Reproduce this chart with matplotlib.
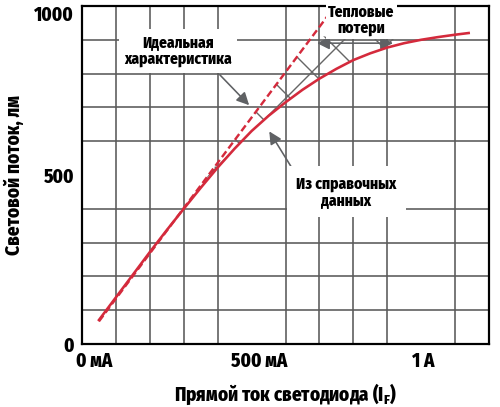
import matplotlib
matplotlib.use('Agg')
import matplotlib.pyplot as plt
import matplotlib.transforms as mtransforms
import numpy as np

plt.rcParams['font.family'] = ['Fira Sans Condensed', 'Roboto Condensed', 'DejaVu Sans']
plt.rcParams['font.weight'] = 800
plt.rcParams['axes.labelweight'] = 800
plt.rcParams['hatch.linewidth'] = 0.7

#-----------------------------------------------------------------------------
# Данные: ток (мА) и световой поток (лм)

tok = [50, 100, 150, 200, 250, 300, 350, 400, 450, 500, 550, 600, 650,
       700, 750, 800, 850, 900, 950, 1000, 1050, 1100, 1140]
potok = [71, 138, 205, 272, 337, 400, 462, 522, 578, 630, 675, 715, 752,
         785, 814, 840, 860, 877, 890, 900, 908, 915, 920]

# идеальная характеристика (прямая)
ideal_tok = [50, 735]
ideal_potok = [67, 985]

# область штриховки "тепловые потери"
poteri_tok = [300, 930]
poteri_max = 910

xticks = [0, 500, 1000]
xlabels = ['0 мА', '500 мА', '1 А']
yticks = [0, 500, 1000]
ylabels = ['0', '500', '1000']

#-----------------------------------------------------------------------------
red = '#d42a3c'
gray = '#5f6164'

fig = plt.figure(figsize=(500/144, 407/144), dpi=144)
ax = fig.add_axes([0.164, 0.1548, 0.814, 0.8305])

ax.set_xlim(0, 1200)
ax.set_ylim(0, 1000)
ax.set_xticks(np.arange(0, 1201, 100), minor=True)
ax.set_yticks(np.arange(0, 1001, 100), minor=True)
ax.grid(which='minor', color='#5a5a5a', lw=0.8)
ax.set_axisbelow(True)
ax.tick_params(which='both', length=0)
ax.set_xticks(xticks, xlabels)
ax.set_yticks(yticks, ylabels)
ax.tick_params(axis='x', pad=4, labelsize=9.5)
ax.tick_params(axis='y', pad=4, labelsize=9.5)
for sp in ax.spines.values():
    sp.set_linewidth(1.1)

# подписи осей
ax.set_xlabel('Прямой ток светодиода (I$_\\mathregular{F}$)', fontsize=9.5, labelpad=5)
ax.set_ylabel('Световой поток, лм', fontsize=9.5, labelpad=5)

lab = ax.get_xticklabels()
lab[0].set_ha('left')
for l, dx in zip(lab, [-6, 8, 2]):
    off = mtransforms.ScaledTranslation(dx/144, 0, fig.dpi_scale_trans)
    l.set_transform(l.get_transform() + off)
ax.get_yticklabels()[-1].set_va('top')

# штриховка между идеальной прямой и реальной кривой
xx = np.linspace(poteri_tok[0], poteri_tok[1], 400)
verh = np.minimum(np.interp(xx, ideal_tok, ideal_potok), poteri_max)
niz = np.interp(xx, tok, potok)
ax.fill_between(xx, niz, verh, where=verh > niz, facecolor='none',
                edgecolor='#666666', hatch='x', lw=0, zorder=1.5)

ax.plot(ideal_tok, ideal_potok, color=red, lw=1.2, dashes=(3, 1.5), zorder=3)
ax.plot(tok, potok, color=red, lw=1.3, zorder=4)

# стрелки
ap = dict(arrowstyle='-|>', color=gray, lw=0.8, mutation_scale=13)
ax.annotate('', xy=(501, 698), xytext=(398, 805), arrowprops=ap)
ax.annotate('', xy=(546, 639), xytext=(628, 506), arrowprops=ap)
ap2 = dict(arrowstyle='<|-|>', color=gray, lw=0.8, mutation_scale=13)
ax.annotate('', xy=(929, 890), xytext=(681, 890), arrowprops=ap2)

box = dict(boxstyle='square,pad=0.35', fc='white', ec='none')
ax.text(283, 867, 'Идеальная\nхарактеристика', ha='center', va='center',
        fontsize=7.7, linespacing=1.05, bbox=box, zorder=5)
ax.text(823, 958, 'Тепловые\nпотери', ha='center', va='center',
        fontsize=7.7, linespacing=1.05, bbox=dict(boxstyle='square,pad=0.15', fc='white', ec='none'), zorder=5)
ax.text(779, 450, 'Из справочных\nданных', ha='center', va='center',
        fontsize=7.7, linespacing=1.05,
        bbox=dict(boxstyle='square,pad=0.6', fc='white', ec='none'), zorder=5)

plt.savefig('out.png', dpi=144)
